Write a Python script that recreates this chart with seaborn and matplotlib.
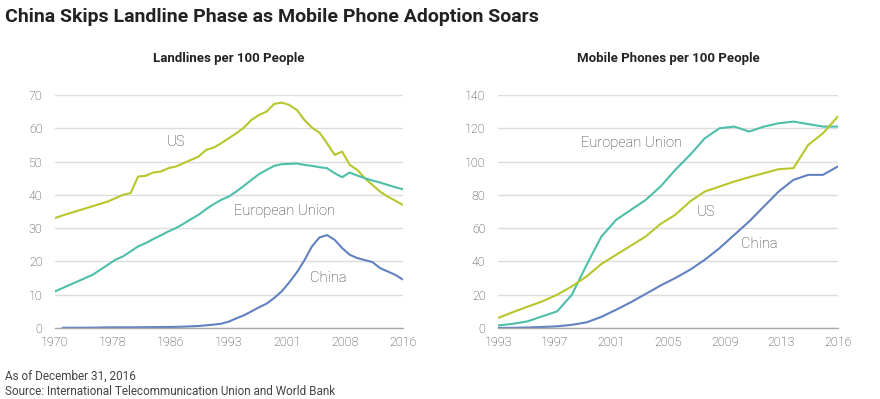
import matplotlib
matplotlib.use("Agg")
import matplotlib.pyplot as plt
import numpy as np
import pandas as pd
import seaborn as sns

# landlines per 100 people, 1970-2016
land_years = list(range(1970, 2017))
land_us = [33.0, 33.8, 34.5, 35.2, 35.9, 36.6, 37.3, 38.0, 39.0, 40.0,
           40.5, 45.5, 45.7, 46.7, 47.0, 48.0, 48.5, 49.5, 50.5, 51.5,
           53.5, 54.2, 55.5, 57.0, 58.5, 60.2, 62.5, 64.0, 65.0, 67.3,
           67.7, 67.0, 65.5, 62.5, 60.2, 58.7, 55.5, 52.0, 53.0, 49.0,
           47.5, 45.0, 43.0, 41.0, 39.5, 38.3, 37.0]
land_eu = [11.0, 12.0, 13.0, 14.0, 15.0, 16.0, 17.5, 19.0, 20.5, 21.5,
           23.0, 24.5, 25.5, 26.7, 27.8, 29.0, 30.0, 31.3, 32.7, 34.0,
           35.7, 37.2, 38.5, 39.5, 41.0, 42.7, 44.5, 46.2, 47.5, 48.7,
           49.2, 49.3, 49.4, 49.0, 48.7, 48.3, 48.0, 46.5, 45.3, 46.7,
           45.8, 45.0, 44.3, 43.7, 43.0, 42.3, 41.7]
land_cn = [np.nan, 0.05, 0.06, 0.07, 0.08, 0.1, 0.15, 0.18, 0.2, 0.2,
           0.2, 0.22, 0.24, 0.26, 0.28, 0.3, 0.33, 0.4, 0.5, 0.6,
           0.8, 1.0, 1.3, 1.9, 2.9, 3.8, 5.0, 6.2, 7.3, 9.0,
           11.0, 13.7, 16.7, 20.3, 24.5, 27.2, 27.9, 26.5, 24.0, 22.0,
           21.0, 20.4, 19.8, 18.0, 17.0, 16.0, 14.6]

# mobile phones per 100 people, 1993-2016
mob_years = list(range(1993, 2017))
mob_eu = [1.5, 2.5, 4.0, 7.0, 10.0, 20.0, 38.0, 55.0, 65.0, 71.0,
          77.0, 85.0, 95.0, 104.0, 114.0, 120.0, 121.0, 118.0, 121.0, 123.0,
          124.0, 122.5, 121.0, 121.0]
mob_us = [6.0, 9.5, 12.8, 16.0, 20.0, 25.0, 31.0, 38.5, 44.0, 49.5,
          55.0, 62.5, 68.0, 76.0, 82.0, 85.0, 88.0, 90.6, 93.0, 95.4,
          96.0, 110.0, 117.0, 127.0]
mob_cn = [0.0, 0.1, 0.3, 0.6, 1.0, 1.9, 3.4, 6.7, 11.0, 15.5,
          20.5, 25.5, 30.0, 35.0, 41.0, 48.0, 56.0, 64.0, 73.0, 82.0,
          89.0, 92.0, 92.0, 97.0]

land_ticks = ["1970", "1978", "1986", "1993", "2001", "2008", "2016"]
mob_ticks = ["1993", "1997", "2001", "2005", "2009", "2013", "2016"]

colors = {"US": "#b7c62c", "European Union": "#4dbfa9", "China": "#6182c0"}

df_land = pd.DataFrame({"year": land_years, "US": land_us,
                        "European Union": land_eu, "China": land_cn})
df_land = df_land.melt("year", var_name="region", value_name="value")
df_mob = pd.DataFrame({"year": mob_years, "European Union": mob_eu,
                       "US": mob_us, "China": mob_cn})
df_mob = df_mob.melt("year", var_name="region", value_name="value")

sns.set_style("white")
plt.rcParams["font.family"] = ["Roboto", "DejaVu Sans"]

fig = plt.figure(figsize=(8.8, 3.99), dpi=100)
ax1 = fig.add_axes([0.0625, 0.178, 0.395, 0.584])
ax2 = fig.add_axes([0.566, 0.178, 0.386, 0.584])

txt = "#333333"


def style(ax, df, years, ylim, ystep, ticklabels, title):
    sns.lineplot(data=df.dropna(), x="year", y="value", hue="region",
                 palette=colors, linewidth=1.5, legend=False, ax=ax)
    ax.set_xlim(years[0], years[-1])
    ax.set_ylim(0, ylim)
    ax.set_yticks(np.arange(0, ylim + 1, ystep))
    ax.set_xticks(np.linspace(years[0], years[-1], len(ticklabels)))
    ax.set_xticklabels(ticklabels)
    ax.set_xlabel("")
    ax.set_ylabel("")
    ax.grid(axis="y", color="#dcdcdc", linewidth=1)
    ax.set_axisbelow(True)
    for s in ["top", "right", "left"]:
        ax.spines[s].set_visible(False)
    ax.spines["bottom"].set_color("#aaaaaa")
    ax.spines["bottom"].set_linewidth(1)
    ax.tick_params(axis="both", length=0, labelsize=9, labelcolor=txt)
    ax.tick_params(axis="y", pad=9)
    ax.tick_params(axis="x", pad=6)
    for t in ax.get_xticklabels() + ax.get_yticklabels():
        t.set_fontweight("light")
    ax.text(0.5, 1.155, title, transform=ax.transAxes, ha="center",
            va="center", fontsize=9.5, fontweight="bold", color="#222222")


style(ax1, df_land, land_years, 70, 10, land_ticks, "Landlines per 100 People")
style(ax2, df_mob, mob_years, 140, 20, mob_ticks, "Mobile Phones per 100 People")

lab = dict(fontsize=10.5, color=txt, ha="center", va="center", fontweight="light")
ax1.text(1986.0, 55.8, "US", **lab)
ax1.text(2000.4, 35.1, "European Union", **lab)
ax1.text(2006.1, 15.0, "China", **lab)
ax2.text(2002.05, 111.0, "European Union", **lab)
ax2.text(2007.05, 69.6, "US", **lab)
ax2.text(2010.7, 50.4, "China", **lab)

fig.text(0.006, 0.957, "China Skips Landline Phase as Mobile Phone Adoption Soars",
         fontsize=14, fontweight="bold", color="#222222", va="center")
fig.text(0.006, 0.058, "As of December 31, 2016", fontsize=8.5, color="#444444",
         va="center")
fig.text(0.006, 0.018, "Source: International Telecommunication Union and World Bank",
         fontsize=8.5, color="#444444", va="center")

fig.savefig("out.png", dpi=100)
